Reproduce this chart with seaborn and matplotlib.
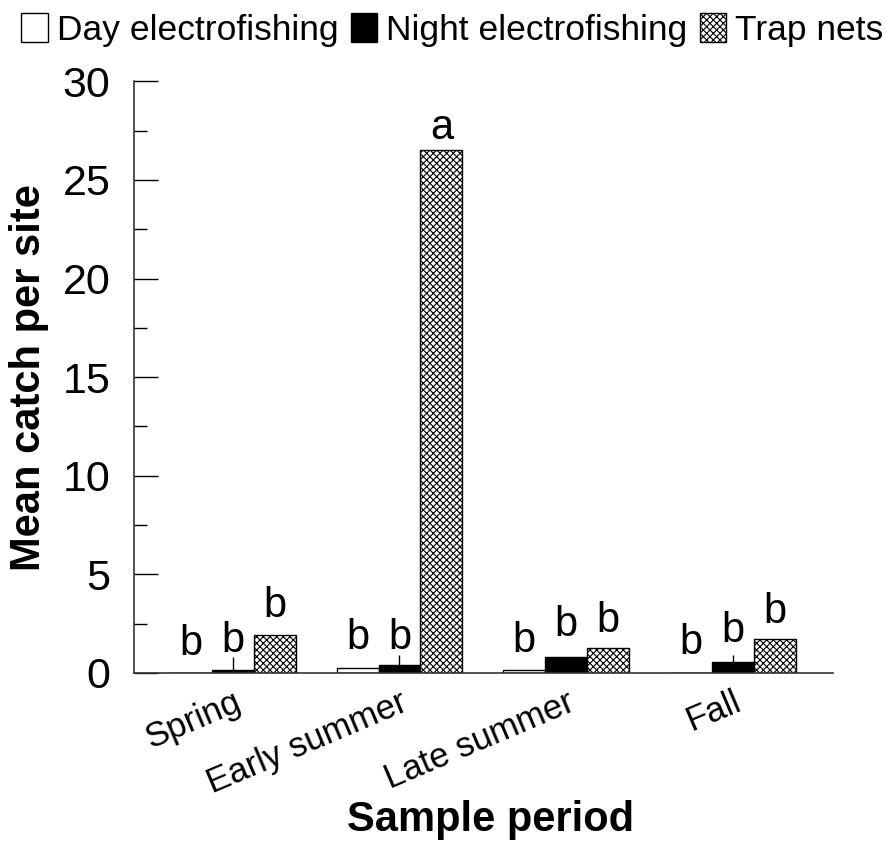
import numpy as np
import pandas as pd
import matplotlib
matplotlib.use("Agg")
import matplotlib.pyplot as plt
from matplotlib.patches import Patch
from matplotlib.ticker import MultipleLocator
import seaborn as sns

periods = ["Spring", "Early summer", "Late summer", "Fall"]
gears = ["Day electrofishing", "Night electrofishing", "Trap nets"]
day_vals = [0.0, 0.25, 0.15, 0.0]
night_vals = [0.15, 0.4, 0.8, 0.55]
trap_vals = [1.9, 26.5, 1.27, 1.7]
night_err = [0.65, 0.5, 0.0, 0.35]
letters_day = ["b", "b", "b", "b"]
letters_night = ["b", "b", "b", "b"]
letters_trap = ["b", "a", "b", "b"]
letter_y_day = [0.45, 0.75, 0.6, 0.5]
letter_y_night = [0.6, 0.75, 1.4, 1.1]
letter_y_trap = [2.4, 26.6, 1.6, 2.1]

df = pd.DataFrame({
    "period": periods * 3,
    "gear": [gears[0]] * 4 + [gears[1]] * 4 + [gears[2]] * 4,
    "catch": day_vals + night_vals + trap_vals,
})

sns.set_style("ticks")
plt.rcParams["font.family"] = ["Liberation Sans", "DejaVu Sans"]
plt.rcParams["hatch.linewidth"] = 0.8
plt.rcParams["text.color"] = "black"
plt.rcParams["axes.labelcolor"] = "black"
plt.rcParams["xtick.color"] = "black"
plt.rcParams["ytick.color"] = "black"

fig = plt.figure(figsize=(8.87, 8.65), dpi=100)
ax = fig.add_axes([0.151, 0.222, 0.788, 0.684])

colors = ["white", "black", "white"]
sns.barplot(data=df, x="period", y="catch", hue="gear", order=periods,
            hue_order=gears, palette=colors, width=0.755, gap=0,
            edgecolor="black", linewidth=1.0, errorbar=None, ax=ax, legend=False)

n = len(periods)
bars = ax.patches[:3 * n]
for p in bars[2 * n:3 * n]:
    p.set_hatch("xxxxx")

# error bars for night electrofishing
for i, p in enumerate(bars[n:2 * n]):
    if night_err[i] > 0:
        xc = p.get_x() + p.get_width() / 2
        ax.errorbar([xc], [p.get_height()], yerr=[[0], [night_err[i]]],
                    fmt="none", ecolor="black", elinewidth=1.0, capsize=0)

# letters
all_letters = [letters_day, letters_night, letters_trap]
all_ly = [letter_y_day, letter_y_night, letter_y_trap]
for g in range(3):
    for i in range(n):
        p = bars[g * n + i]
        xc = p.get_x() + p.get_width() / 2
        ax.text(xc, all_ly[g][i], all_letters[g][i], ha="center", va="bottom",
                fontsize=30)

ax.set_xlim(-0.593, 3.6)
ax.set_ylim(0, 30)
ax.yaxis.set_major_locator(MultipleLocator(5))
ax.yaxis.set_minor_locator(MultipleLocator(2.5))
ax.tick_params(axis="y", which="major", direction="in", length=17, width=1,
               labelsize=31, pad=17)
ax.tick_params(axis="y", which="minor", direction="in", length=9, width=1)
ax.tick_params(axis="x", length=0, labelsize=25, pad=9)
for lab in ax.get_xticklabels():
    lab.set_rotation(23)
    lab.set_ha("right")
    lab.set_rotation_mode("anchor")
sns.despine(ax=ax)
for s in ["left", "bottom"]:
    ax.spines[s].set_linewidth(1.2)
    ax.spines[s].set_color("#333333")

ax.set_xlabel("Sample period", fontsize=30, fontweight="bold")
ax.xaxis.set_label_coords(0.51, -0.215)
ax.set_ylabel("Mean catch per site", fontsize=30, fontweight="bold", labelpad=10)

handles = [Patch(facecolor="white", edgecolor="black", linewidth=1.0),
           Patch(facecolor="black", edgecolor="black", linewidth=1.0),
           Patch(facecolor="white", edgecolor="black", linewidth=1.0, hatch="xxxxx")]
fig.legend(handles, gears, loc="upper center", bbox_to_anchor=(0.51, 1.01), ncol=3,
           frameon=False, fontsize=25.5, handlelength=0.75, handleheight=0.9,
           handletextpad=0.25, columnspacing=0.35, borderaxespad=0.2)

fig.savefig("out.png", dpi=100)
